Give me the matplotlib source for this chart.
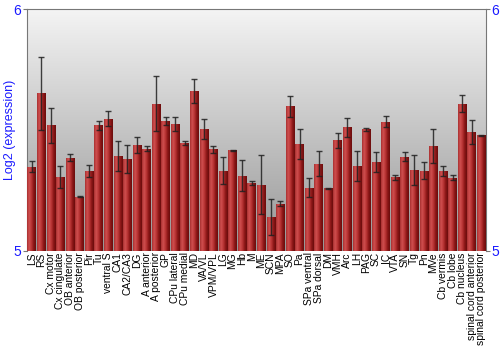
import matplotlib
matplotlib.use("Agg")
import matplotlib.pyplot as plt
import numpy as np

plt.rcParams['font.family'] = ['Liberation Sans', 'DejaVu Sans']

# regiony mozgu i wartosci (log2 ekspresji)
regions = ["LS", "RS", "Cx motor", "Cx cingulate", "OB anterior", "OB posterior", "Pir", "Tu",
           "ventral S", "CA1", "CA2/CA3", "DG", "A anterior", "A posterior", "GP", "CPu lateral",
           "CPu medial", "MD", "VA/VL", "VPM/VPL", "LG", "MG", "Hb", "M", "ME", "SCN", "MPA",
           "SO", "Pa", "SPa ventral", "SPa dorsal", "DM", "VMH", "Arc", "LH", "PAG", "SC", "IC",
           "VTA", "SN", "Tg", "Pn", "MVe", "Cb vermis", "Cb lobe", "Cb nucleus",
           "spinal cord anterior", "spinal cord posterior"]
values = [5.348, 5.652, 5.519, 5.307, 5.386, 5.225, 5.332, 5.519,
          5.547, 5.391, 5.379, 5.437, 5.423, 5.609, 5.537, 5.525,
          5.445, 5.661, 5.504, 5.421, 5.331, 5.417, 5.310, 5.282, 5.274, 5.140, 5.196,
          5.598, 5.442, 5.262, 5.361, 5.259, 5.457, 5.512, 5.350, 5.504, 5.369, 5.534,
          5.304, 5.390, 5.335, 5.331, 5.434, 5.329, 5.302, 5.609,
          5.492, 5.478]
errors = [0.022, 0.150, 0.074, 0.046, 0.015, 0.002, 0.025, 0.020,
          0.030, 0.062, 0.058, 0.033, 0.009, 0.114, 0.017, 0.027,
          0.008, 0.051, 0.043, 0.014, 0.056, 0.002, 0.064, 0.009, 0.121, 0.076, 0.012,
          0.043, 0.061, 0.039, 0.053, 0.002, 0.032, 0.039, 0.062, 0.006, 0.041, 0.023,
          0.011, 0.019, 0.063, 0.035, 0.069, 0.021, 0.010, 0.034,
          0.050, 0.002]

ymin, ymax = 5, 6
blue = "#1a1aff"

fig = plt.figure(figsize=(5, 3.5), dpi=100)
ax = fig.add_axes([0.054, 0.283, 0.918, 0.691])

x = np.arange(len(regions))
ax.set_xlim(-0.5, len(regions) - 0.5)
ax.set_ylim(ymin, ymax)

# tlo - gradient od jasnego (gora) do szarego (dol)
grad = np.linspace(0, 1, 256).reshape(-1, 1)
bg = plt.matplotlib.colors.LinearSegmentedColormap.from_list("bg", ["#f4f4f4", "#969696"])
ax.imshow(grad, cmap=bg, aspect="auto", extent=[-0.5, len(regions) - 0.5, ymin, ymax],
          zorder=0, interpolation="bilinear")

bars = ax.bar(x, np.array(values) - ymin, bottom=ymin, width=0.9, color="#b02828",
              edgecolor="none", zorder=2)

# gradient na slupkach
barcm = plt.matplotlib.colors.LinearSegmentedColormap.from_list(
    "bar", ["#a83030", "#d05050", "#b83434", "#8a1616", "#6a0c0c"])
hgrad = np.linspace(0, 1, 64).reshape(1, -1)
for b in bars:
    bx, by = b.get_x(), b.get_y()
    w, h = b.get_width(), b.get_height()
    im = ax.imshow(hgrad, cmap=barcm, aspect="auto", extent=[bx, bx + w, by, by + h],
                   zorder=3, interpolation="bilinear")
    im.set_clip_path(b)

ax.errorbar(x, values, yerr=errors, fmt="none", ecolor="#202020", elinewidth=1,
            capsize=2, capthick=1, alpha=0.85, zorder=4)

ax.set_xticks(x)
ax.set_xticklabels(regions, rotation=90, fontsize=7.4)
ax.tick_params(axis="x", length=0, pad=1)
ax.set_yticks([5, 6])
ax.tick_params(axis="y", colors="#777777", labelcolor=blue, labelsize=10, length=3,
               left=True, right=True, labelleft=True, labelright=True, pad=1)
ax.set_ylabel("Log2 (expression)", color=blue, fontsize=9, labelpad=-2)

for s in ax.spines.values():
    s.set_color("#777777")
ax.spines["bottom"].set_visible(False)

fig.savefig("out.png", dpi=100)
